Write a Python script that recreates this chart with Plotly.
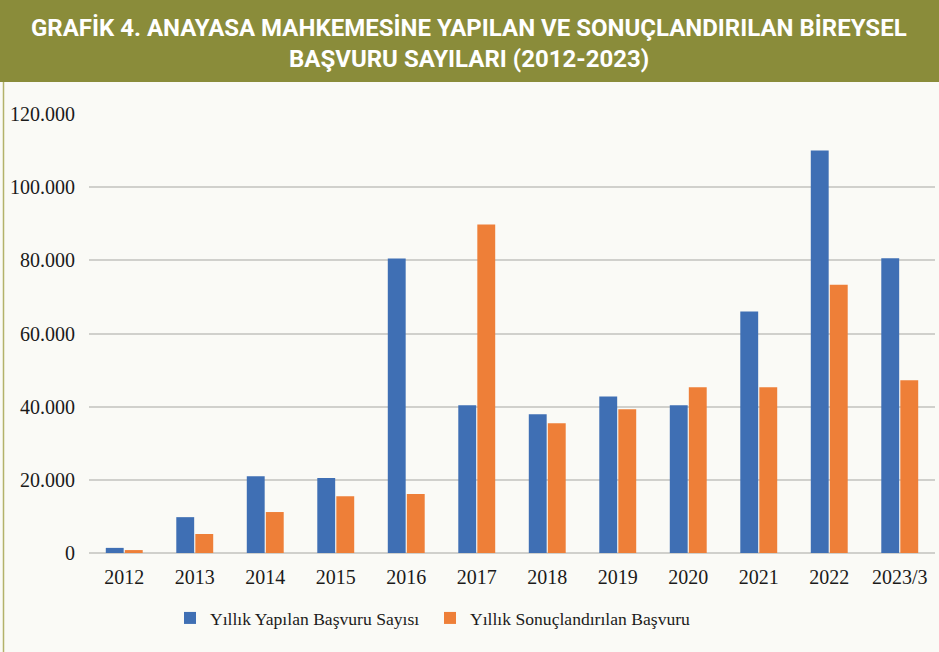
import plotly.graph_objects as go

categories = ["2012", "2013", "2014", "2015", "2016", "2017", "2018", "2019", "2020", "2021", "2022", "2023/3"]
yapilan = [1400, 9800, 21000, 20500, 80500, 40400, 37900, 42800, 40400, 66000, 110000, 80600]
sonuclandirilan = [800, 5200, 11200, 15500, 16100, 89800, 35500, 39300, 45300, 45300, 73300, 47200]
y_ticks = [0, 20000, 40000, 60000, 80000, 100000, 120000]
y_tick_labels = ["0", "20.000", "40.000", "60.000", "80.000", "100.000", "120.000"]
series_names = ["Yıllık Yapılan Başvuru Sayısı", "Yıllık Sonuçlandırılan Başvuru"]
title_lines = ["GRAFİK 4. ANAYASA MAHKEMESİNE YAPILAN VE SONUÇLANDIRILAN BİREYSEL",
               "BAŞVURU SAYILARI (2012-2023)"]

W, H = 939, 652
ML, MR, MT, MB = 89, 4, 114, 99
PW, PH = W - ML - MR, H - MT - MB

def px_to_paper_x(px):
    return (px - ML) / PW

def px_to_paper_y(py):
    return (H - MB - py) / PH

fig = go.Figure()
fig.add_trace(go.Bar(x=categories, y=yapilan, name=series_names[0],
                     marker=dict(color="#3F6FB4", line=dict(width=0))))
fig.add_trace(go.Bar(x=categories, y=sonuclandirilan, name=series_names[1],
                     marker=dict(color="#EE7F38", line=dict(width=0))))

serif = "Liberation Serif, Times New Roman, serif"

fig.update_layout(
    width=W, height=H,
    margin=dict(l=ML, r=MR, t=MT, b=MB, autoexpand=False),
    paper_bgcolor="#FAFAF6", plot_bgcolor="#FAFAF6",
    barmode="group", bargap=0.46, bargroupgap=0.06,
    showlegend=True,
    legend=dict(orientation="h", x=px_to_paper_x(170), xanchor="left",
                y=px_to_paper_y(618), yanchor="middle",
                font=dict(family=serif, size=17.6, color="#1a1a1a"),
                itemwidth=30, entrywidth=215, entrywidthmode="pixels",
                bgcolor="rgba(0,0,0,0)", borderwidth=0,
                tracegroupgap=0),
    xaxis=dict(type="category", showgrid=False, showline=False, zeroline=False,
               ticks="", tickfont=dict(family=serif, size=20, color="#1a1a1a"),
               ticklabelstandoff=10),
    yaxis=dict(range=[0, 120000], tickvals=y_ticks, ticktext=y_tick_labels,
               showgrid=True, gridcolor="#D0D0CC", gridwidth=2,
               zeroline=True, zerolinecolor="#D0D0CC", zerolinewidth=2,
               showline=False, ticks="",
               tickfont=dict(family=serif, size=20, color="#1a1a1a"),
               ticklabelstandoff=13),
)

# header band
fig.add_shape(type="rect", xref="paper", yref="paper",
              x0=px_to_paper_x(0), x1=px_to_paper_x(W),
              y0=px_to_paper_y(82), y1=px_to_paper_y(0),
              fillcolor="#8A8C3A", line=dict(width=0), layer="above")
# left border
fig.add_shape(type="line", xref="paper", yref="paper",
              x0=px_to_paper_x(3.5), x1=px_to_paper_x(3.5),
              y0=px_to_paper_y(H), y1=px_to_paper_y(82),
              line=dict(color="#B3B26A", width=1.5))

for txt, cy in zip(title_lines, [28, 59]):
    fig.add_annotation(text="<b>" + txt + "</b>", xref="paper", yref="paper",
                       x=px_to_paper_x(469), y=px_to_paper_y(cy),
                       xanchor="center", yanchor="middle", showarrow=False,
                       font=dict(family="Roboto, Open Sans, sans-serif",
                                 size=24, color="white"))

fig.write_html("out.html", config={"displayModeBar": False},
               post_script="document.body.style.margin='0';")
